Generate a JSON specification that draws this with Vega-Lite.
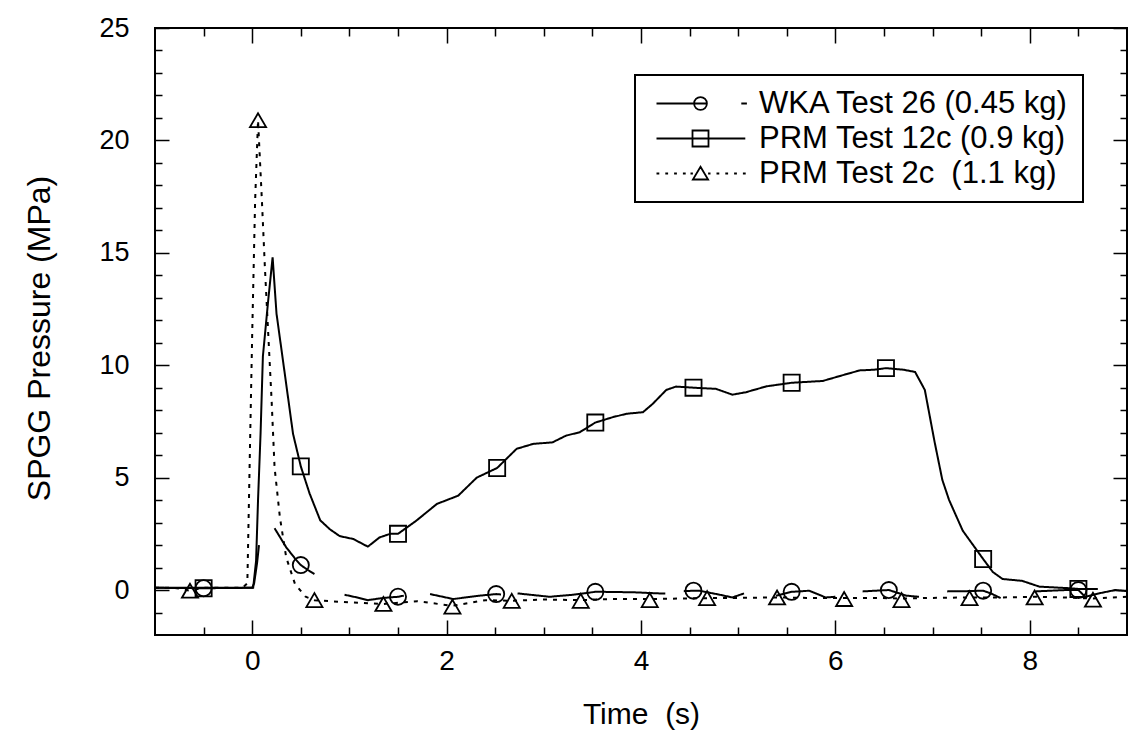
{
  "$schema": "https://vega.github.io/schema/vega-lite/v6.json",
  "width": 972,
  "height": 607,
  "autosize": {"type": "none"},
  "padding": {"left": 155, "top": 28, "right": 3, "bottom": 110},
  "background": "white",
  "config": {
    "view": {"stroke": "black", "strokeWidth": 2},
    "font": "Liberation Sans",
    "axis": {"domain": false, "grid": false, "tickColor": "black", "tickWidth": 1.5, "labelColor": "black", "titleColor": "black", "labelFont": "Liberation Sans", "titleFont": "Liberation Sans", "titleFontWeight": "normal"},
    "legend": {"labelFont": "Liberation Sans", "labelFontSize": 31, "labelColor": "black", "labelLimit": 1000, "strokeWidth": 2}
  },
  "datasets": {
    "lines": [
      {"series": "PRM12c", "seg": "b", "t": -1.0, "p": 0.1},
      {"series": "PRM12c", "seg": "b", "t": -0.5, "p": 0.1},
      {"series": "PRM12c", "seg": "b", "t": 0.01, "p": 0.1},
      {"series": "PRM12c", "seg": "b", "t": 0.04, "p": 1.3},
      {"series": "PRM12c", "seg": "b", "t": 0.06, "p": 4.0},
      {"series": "PRM12c", "seg": "b", "t": 0.086, "p": 6.95},
      {"series": "PRM12c", "seg": "b", "t": 0.11, "p": 10.4},
      {"series": "PRM12c", "seg": "b", "t": 0.165, "p": 12.9},
      {"series": "PRM12c", "seg": "b", "t": 0.21, "p": 14.8},
      {"series": "PRM12c", "seg": "b", "t": 0.25, "p": 12.3},
      {"series": "PRM12c", "seg": "b", "t": 0.32, "p": 10.1},
      {"series": "PRM12c", "seg": "b", "t": 0.42, "p": 6.95},
      {"series": "PRM12c", "seg": "b", "t": 0.5, "p": 5.5},
      {"series": "PRM12c", "seg": "b", "t": 0.59, "p": 4.3},
      {"series": "PRM12c", "seg": "b", "t": 0.7, "p": 3.1},
      {"series": "PRM12c", "seg": "b", "t": 0.8, "p": 2.7},
      {"series": "PRM12c", "seg": "b", "t": 0.9, "p": 2.4},
      {"series": "PRM12c", "seg": "b", "t": 1.04, "p": 2.27},
      {"series": "PRM12c", "seg": "b", "t": 1.19, "p": 1.93},
      {"series": "PRM12c", "seg": "b", "t": 1.31, "p": 2.34},
      {"series": "PRM12c", "seg": "b", "t": 1.42, "p": 2.5},
      {"series": "PRM12c", "seg": "b", "t": 1.5, "p": 2.5},
      {"series": "PRM12c", "seg": "b", "t": 1.69, "p": 3.09},
      {"series": "PRM12c", "seg": "b", "t": 1.9, "p": 3.83},
      {"series": "PRM12c", "seg": "b", "t": 2.12, "p": 4.2},
      {"series": "PRM12c", "seg": "b", "t": 2.31, "p": 5.0},
      {"series": "PRM12c", "seg": "b", "t": 2.52, "p": 5.43},
      {"series": "PRM12c", "seg": "b", "t": 2.72, "p": 6.28},
      {"series": "PRM12c", "seg": "b", "t": 2.89, "p": 6.5},
      {"series": "PRM12c", "seg": "b", "t": 3.09, "p": 6.57},
      {"series": "PRM12c", "seg": "b", "t": 3.23, "p": 6.87},
      {"series": "PRM12c", "seg": "b", "t": 3.37, "p": 7.02},
      {"series": "PRM12c", "seg": "b", "t": 3.53, "p": 7.45},
      {"series": "PRM12c", "seg": "b", "t": 3.71, "p": 7.69},
      {"series": "PRM12c", "seg": "b", "t": 3.85, "p": 7.84},
      {"series": "PRM12c", "seg": "b", "t": 4.02, "p": 7.91},
      {"series": "PRM12c", "seg": "b", "t": 4.12, "p": 8.28},
      {"series": "PRM12c", "seg": "b", "t": 4.26, "p": 8.9},
      {"series": "PRM12c", "seg": "b", "t": 4.36, "p": 9.05},
      {"series": "PRM12c", "seg": "b", "t": 4.54, "p": 9.0},
      {"series": "PRM12c", "seg": "b", "t": 4.77, "p": 8.95},
      {"series": "PRM12c", "seg": "b", "t": 4.94, "p": 8.69},
      {"series": "PRM12c", "seg": "b", "t": 5.08, "p": 8.8},
      {"series": "PRM12c", "seg": "b", "t": 5.29, "p": 9.06},
      {"series": "PRM12c", "seg": "b", "t": 5.55, "p": 9.22},
      {"series": "PRM12c", "seg": "b", "t": 5.87, "p": 9.3},
      {"series": "PRM12c", "seg": "b", "t": 6.07, "p": 9.55},
      {"series": "PRM12c", "seg": "b", "t": 6.25, "p": 9.77},
      {"series": "PRM12c", "seg": "b", "t": 6.4, "p": 9.8},
      {"series": "PRM12c", "seg": "b", "t": 6.52, "p": 9.87},
      {"series": "PRM12c", "seg": "b", "t": 6.7, "p": 9.8},
      {"series": "PRM12c", "seg": "b", "t": 6.82, "p": 9.7},
      {"series": "PRM12c", "seg": "b", "t": 6.92, "p": 8.9},
      {"series": "PRM12c", "seg": "b", "t": 7.02, "p": 6.6},
      {"series": "PRM12c", "seg": "b", "t": 7.1, "p": 4.9},
      {"series": "PRM12c", "seg": "b", "t": 7.17, "p": 4.0},
      {"series": "PRM12c", "seg": "b", "t": 7.31, "p": 2.64},
      {"series": "PRM12c", "seg": "b", "t": 7.52, "p": 1.38},
      {"series": "PRM12c", "seg": "b", "t": 7.62, "p": 0.8},
      {"series": "PRM12c", "seg": "b", "t": 7.72, "p": 0.49},
      {"series": "PRM12c", "seg": "b", "t": 7.92, "p": 0.41},
      {"series": "PRM12c", "seg": "b", "t": 8.1, "p": 0.15},
      {"series": "PRM12c", "seg": "b", "t": 8.37, "p": 0.09},
      {"series": "PRM12c", "seg": "b", "t": 8.5, "p": 0.05},
      {"series": "PRM12c", "seg": "b", "t": 8.7, "p": 0.05},
      {"series": "PRM2c", "seg": "c", "t": -1.0, "p": 0.1},
      {"series": "PRM2c", "seg": "c", "t": -0.8, "p": 0.1},
      {"series": "PRM2c", "seg": "c", "t": -0.64, "p": -0.03},
      {"series": "PRM2c", "seg": "c", "t": -0.5, "p": 0.1},
      {"series": "PRM2c", "seg": "c", "t": -0.1, "p": 0.1},
      {"series": "PRM2c", "seg": "c", "t": -0.05, "p": 0.3},
      {"series": "PRM2c", "seg": "c", "t": -0.04, "p": 2.5},
      {"series": "PRM2c", "seg": "c", "t": -0.02, "p": 7.0},
      {"series": "PRM2c", "seg": "c", "t": 0.0, "p": 11.4},
      {"series": "PRM2c", "seg": "c", "t": 0.03, "p": 17.3},
      {"series": "PRM2c", "seg": "c", "t": 0.06, "p": 20.9},
      {"series": "PRM2c", "seg": "c", "t": 0.1, "p": 17.3},
      {"series": "PRM2c", "seg": "c", "t": 0.13, "p": 14.4},
      {"series": "PRM2c", "seg": "c", "t": 0.165, "p": 11.4},
      {"series": "PRM2c", "seg": "c", "t": 0.2, "p": 8.4},
      {"series": "PRM2c", "seg": "c", "t": 0.23, "p": 5.46},
      {"series": "PRM2c", "seg": "c", "t": 0.285, "p": 3.23},
      {"series": "PRM2c", "seg": "c", "t": 0.35, "p": 1.45},
      {"series": "PRM2c", "seg": "c", "t": 0.44, "p": 0.27},
      {"series": "PRM2c", "seg": "c", "t": 0.55, "p": -0.3},
      {"series": "PRM2c", "seg": "c", "t": 0.64, "p": -0.45},
      {"series": "PRM2c", "seg": "c", "t": 1.0, "p": -0.55},
      {"series": "PRM2c", "seg": "c", "t": 1.35, "p": -0.62},
      {"series": "PRM2c", "seg": "c", "t": 1.7, "p": -0.5},
      {"series": "PRM2c", "seg": "c", "t": 2.06, "p": -0.7},
      {"series": "PRM2c", "seg": "c", "t": 2.4, "p": -0.45},
      {"series": "PRM2c", "seg": "c", "t": 2.67, "p": -0.48},
      {"series": "PRM2c", "seg": "c", "t": 3.0, "p": -0.42},
      {"series": "PRM2c", "seg": "c", "t": 3.38, "p": -0.45},
      {"series": "PRM2c", "seg": "c", "t": 3.7, "p": -0.4},
      {"series": "PRM2c", "seg": "c", "t": 4.09, "p": -0.4},
      {"series": "PRM2c", "seg": "c", "t": 4.4, "p": -0.38},
      {"series": "PRM2c", "seg": "c", "t": 4.68, "p": -0.36},
      {"series": "PRM2c", "seg": "c", "t": 5.0, "p": -0.35},
      {"series": "PRM2c", "seg": "c", "t": 5.4, "p": -0.33},
      {"series": "PRM2c", "seg": "c", "t": 5.7, "p": -0.35},
      {"series": "PRM2c", "seg": "c", "t": 6.09, "p": -0.35},
      {"series": "PRM2c", "seg": "c", "t": 6.4, "p": -0.35},
      {"series": "PRM2c", "seg": "c", "t": 6.68, "p": -0.38},
      {"series": "PRM2c", "seg": "c", "t": 7.0, "p": -0.35},
      {"series": "PRM2c", "seg": "c", "t": 7.38, "p": -0.33},
      {"series": "PRM2c", "seg": "c", "t": 7.7, "p": -0.33},
      {"series": "PRM2c", "seg": "c", "t": 8.05, "p": -0.3},
      {"series": "PRM2c", "seg": "c", "t": 8.35, "p": -0.33},
      {"series": "PRM2c", "seg": "c", "t": 8.65, "p": -0.38},
      {"series": "PRM2c", "seg": "c", "t": 9.0, "p": -0.3},
      {"series": "WKA", "seg": "w0", "t": -1.0, "p": 0.1},
      {"series": "WKA", "seg": "w0", "t": -0.5, "p": 0.08},
      {"series": "WKA", "seg": "w0", "t": 0.0, "p": 0.1},
      {"series": "WKA", "seg": "w0", "t": 0.02, "p": 0.3},
      {"series": "WKA", "seg": "w0", "t": 0.05, "p": 1.2},
      {"series": "WKA", "seg": "w0", "t": 0.07, "p": 2.0},
      {"series": "WKA", "seg": "w1", "t": 0.23, "p": 2.75},
      {"series": "WKA", "seg": "w1", "t": 0.35, "p": 1.9},
      {"series": "WKA", "seg": "w1", "t": 0.45, "p": 1.35},
      {"series": "WKA", "seg": "w1", "t": 0.5, "p": 1.11},
      {"series": "WKA", "seg": "w1", "t": 0.57, "p": 0.9},
      {"series": "WKA", "seg": "w1", "t": 0.64, "p": 0.71},
      {"series": "WKA", "seg": "w2", "t": 0.95, "p": -0.21},
      {"series": "WKA", "seg": "w2", "t": 1.1, "p": -0.35},
      {"series": "WKA", "seg": "w2", "t": 1.19, "p": -0.45},
      {"series": "WKA", "seg": "w2", "t": 1.35, "p": -0.35},
      {"series": "WKA", "seg": "w2", "t": 1.5, "p": -0.3},
      {"series": "WKA", "seg": "w2", "t": 1.56, "p": -0.25},
      {"series": "WKA", "seg": "w3", "t": 1.83, "p": -0.18},
      {"series": "WKA", "seg": "w3", "t": 2.07, "p": -0.4},
      {"series": "WKA", "seg": "w3", "t": 2.34, "p": -0.25},
      {"series": "WKA", "seg": "w3", "t": 2.51, "p": -0.18},
      {"series": "WKA", "seg": "w3", "t": 2.56, "p": -0.2},
      {"series": "WKA", "seg": "w4", "t": 2.73, "p": -0.15},
      {"series": "WKA", "seg": "w4", "t": 3.06, "p": -0.3},
      {"series": "WKA", "seg": "w4", "t": 3.3, "p": -0.21},
      {"series": "WKA", "seg": "w4", "t": 3.53, "p": -0.08},
      {"series": "WKA", "seg": "w4", "t": 3.61, "p": -0.08},
      {"series": "WKA", "seg": "w4", "t": 3.92, "p": -0.1},
      {"series": "WKA", "seg": "w4", "t": 4.19, "p": -0.15},
      {"series": "WKA", "seg": "w4", "t": 4.25, "p": -0.15},
      {"series": "WKA", "seg": "w5", "t": 4.44, "p": -0.05},
      {"series": "WKA", "seg": "w5", "t": 4.54, "p": -0.03},
      {"series": "WKA", "seg": "w5", "t": 4.6, "p": -0.03},
      {"series": "WKA", "seg": "w5", "t": 4.8, "p": -0.2},
      {"series": "WKA", "seg": "w5", "t": 4.94, "p": -0.33},
      {"series": "WKA", "seg": "w5", "t": 5.06, "p": -0.15},
      {"series": "WKA", "seg": "w6", "t": 5.39, "p": -0.25},
      {"series": "WKA", "seg": "w6", "t": 5.55, "p": -0.08},
      {"series": "WKA", "seg": "w6", "t": 5.73, "p": -0.03},
      {"series": "WKA", "seg": "w6", "t": 5.9, "p": -0.33},
      {"series": "WKA", "seg": "w6", "t": 6.0, "p": -0.3},
      {"series": "WKA", "seg": "w7", "t": 6.28, "p": -0.06},
      {"series": "WKA", "seg": "w7", "t": 6.55, "p": 0.0},
      {"series": "WKA", "seg": "w7", "t": 6.73, "p": -0.25},
      {"series": "WKA", "seg": "w7", "t": 6.86, "p": -0.3},
      {"series": "WKA", "seg": "w8", "t": 7.15, "p": -0.06},
      {"series": "WKA", "seg": "w8", "t": 7.35, "p": -0.05},
      {"series": "WKA", "seg": "w8", "t": 7.52, "p": -0.03},
      {"series": "WKA", "seg": "w8", "t": 7.6, "p": -0.15},
      {"series": "WKA", "seg": "w8", "t": 7.7, "p": -0.36},
      {"series": "WKA", "seg": "w9", "t": 8.06, "p": -0.06},
      {"series": "WKA", "seg": "w9", "t": 8.37, "p": 0.0},
      {"series": "WKA", "seg": "w9", "t": 8.5, "p": 0.0},
      {"series": "WKA", "seg": "w9", "t": 8.57, "p": -0.3},
      {"series": "WKA", "seg": "w9", "t": 8.71, "p": -0.15},
      {"series": "WKA", "seg": "w9", "t": 8.88, "p": 0.0},
      {"series": "WKA", "seg": "w9", "t": 9.0, "p": -0.05}
    ],
    "markers": [
      {"series": "PRM12c", "t": -0.5, "p": 0.08},
      {"series": "PRM12c", "t": 0.5, "p": 5.5},
      {"series": "PRM12c", "t": 1.5, "p": 2.5},
      {"series": "PRM12c", "t": 2.52, "p": 5.43},
      {"series": "PRM12c", "t": 3.53, "p": 7.45},
      {"series": "PRM12c", "t": 4.54, "p": 9.0},
      {"series": "PRM12c", "t": 5.55, "p": 9.22},
      {"series": "PRM12c", "t": 6.52, "p": 9.87},
      {"series": "PRM12c", "t": 7.52, "p": 1.38},
      {"series": "PRM12c", "t": 8.5, "p": 0.05},
      {"series": "WKA", "t": -0.5, "p": 0.08},
      {"series": "WKA", "t": 0.5, "p": 1.11},
      {"series": "WKA", "t": 1.5, "p": -0.3},
      {"series": "WKA", "t": 2.51, "p": -0.18},
      {"series": "WKA", "t": 3.53, "p": -0.08},
      {"series": "WKA", "t": 4.54, "p": -0.03},
      {"series": "WKA", "t": 5.55, "p": -0.08},
      {"series": "WKA", "t": 6.55, "p": 0.0},
      {"series": "WKA", "t": 7.52, "p": -0.03},
      {"series": "WKA", "t": 8.5, "p": 0.0},
      {"series": "PRM2c", "t": -0.64, "p": -0.03},
      {"series": "PRM2c", "t": 0.06, "p": 20.9},
      {"series": "PRM2c", "t": 0.64, "p": -0.45},
      {"series": "PRM2c", "t": 1.35, "p": -0.62},
      {"series": "PRM2c", "t": 2.06, "p": -0.74},
      {"series": "PRM2c", "t": 2.67, "p": -0.48},
      {"series": "PRM2c", "t": 3.38, "p": -0.48},
      {"series": "PRM2c", "t": 4.09, "p": -0.45},
      {"series": "PRM2c", "t": 4.68, "p": -0.36},
      {"series": "PRM2c", "t": 5.4, "p": -0.33},
      {"series": "PRM2c", "t": 6.09, "p": -0.4},
      {"series": "PRM2c", "t": 6.68, "p": -0.45},
      {"series": "PRM2c", "t": 7.38, "p": -0.36},
      {"series": "PRM2c", "t": 8.05, "p": -0.33},
      {"series": "PRM2c", "t": 8.65, "p": -0.43}
    ]
  },
  "layer": [
    {
      "data": {"name": "lines"},
      "mark": {"type": "line", "color": "black", "strokeWidth": 2, "clip": true},
      "encoding": {
        "x": {
          "field": "t", "type": "quantitative",
          "scale": {"domain": [-1, 9], "nice": false, "zero": false},
          "axis": {
            "orient": "bottom",
            "values": [-0.5, 0, 0.5, 1, 1.5, 2, 2.5, 3, 3.5, 4, 4.5, 5, 5.5, 6, 6.5, 7, 7.5, 8, 8.5],
            "labelExpr": "abs(datum.value % 2) < 0.001 ? '' + round(datum.value) : ''",
            "labelOverlap": false,
            "labelFontSize": 28,
            "labelPadding": 27,
            "tickSize": {"condition": {"test": "abs(datum.value % 2) < 0.001", "value": -15}, "value": -8},
            "title": "Time\u00a0 (s)",
            "titleFontSize": 30,
            "titleX": 486,
            "titleY": 79,
            "titleAlign": "center",
            "titleBaseline": "middle"
          }
        },
        "y": {
          "field": "p", "type": "quantitative",
          "scale": {"domain": [-2, 25], "nice": false, "zero": false},
          "axis": {
            "orient": "left",
            "values": [-1, 0, 1, 2, 3, 4, 5, 6, 7, 8, 9, 10, 11, 12, 13, 14, 15, 16, 17, 18, 19, 20, 21, 22, 23, 24, 25],
            "labelExpr": "abs(datum.value % 5) < 0.001 ? datum.label : ''",
            "labelOverlap": false,
            "labelFontSize": 27,
            "labelPadding": 40,
            "tickSize": {"condition": {"test": "abs(datum.value % 5) < 0.001", "value": -14}, "value": -7},
            "title": "SPGG Pressure (MPa)",
            "titleFontSize": 32,
            "titleX": -116,
            "titleY": 310,
            "titleAngle": -90,
            "titleAlign": "center",
            "titleBaseline": "middle"
          }
        },
        "detail": {"field": "seg", "type": "nominal"},
        "strokeDash": {
          "field": "series", "type": "nominal",
          "scale": {"range": [[1, 0], [4, 6], [1, 0]]},
          "legend": null
        }
      }
    },
    {
      "data": {"name": "markers"},
      "mark": {"type": "point", "filled": false, "color": "black", "opacity": 1, "strokeWidth": 1.8, "size": 260, "clip": true},
      "encoding": {
        "x": {
          "field": "t", "type": "quantitative",
          "axis": {
            "orient": "top",
            "values": [-0.5, 0, 0.5, 1, 1.5, 2, 2.5, 3, 3.5, 4, 4.5, 5, 5.5, 6, 6.5, 7, 7.5, 8, 8.5],
            "labels": false,
            "title": null,
            "tickSize": {"condition": {"test": "abs(datum.value % 2) < 0.001", "value": -15}, "value": -8}
          }
        },
        "y": {
          "field": "p", "type": "quantitative",
          "axis": {
            "orient": "right",
            "values": [-1, 0, 1, 2, 3, 4, 5, 6, 7, 8, 9, 10, 11, 12, 13, 14, 15, 16, 17, 18, 19, 20, 21, 22, 23, 24, 25],
            "labels": false,
            "title": null,
            "tickSize": {"condition": {"test": "abs(datum.value % 5) < 0.001", "value": -14}, "value": -7}
          }
        },
        "shape": {
          "field": "series", "type": "nominal",
          "scale": {"range": ["square", "triangle-up", "circle"]},
          "legend": null
        }
      }
    },
    {
      "data": {"name": "markers"},
      "mark": {"type": "point", "filled": false, "color": "black", "opacity": 0, "strokeWidth": 1.8, "size": 256, "clip": true},
      "encoding": {
        "x": {"field": "t", "type": "quantitative", "axis": null},
        "y": {"field": "p", "type": "quantitative", "axis": null},
        "shape": {
          "field": "series", "type": "nominal",
          "scale": {
            "domain": ["WKA", "PRM12c", "PRM2c"],
            "range": [
              "M-5.5,0H0.8M0.8,0A0.8,0.8,0,1,1,-0.8,0A0.8,0.8,0,1,1,0.8,0M5.1,0H5.8",
              "M-5.5,0H5.6M-1,-1H1V1H-1Z",
              "M-5.5,0h0.35M-4.4,0h0.35M-3.3,0h0.35M-2.2,0h0.35M-1.25,0h0.3M0.95,0h0.3M2.0,0h0.35M3.1,0h0.35M4.2,0h0.35M5.3,0h0.35M0,-0.85L0.95,0.75L-0.95,0.75Z"
            ]
          },
          "legend": {
            "orient": "none",
            "legendX": 480,
            "legendY": 47,
            "title": null,
            "direction": "vertical",
            "padding": 13,
            "strokeColor": "black",
            "fillColor": "white",
            "symbolSize": 256,
            "symbolStrokeWidth": 1.8,
            "symbolStrokeColor": "black",
            "symbolFillColor": "transparent",
            "symbolOpacity": 1,
            "symbolOffset": 37,
            "labelOffset": 43,
            "rowPadding": 3,
            "labelExpr": "datum.value === 'WKA' ? 'WKA Test 26 (0.45 kg)' : datum.value === 'PRM12c' ? 'PRM Test 12c (0.9 kg)' : 'PRM Test 2c\u00a0 (1.1 kg)'"
          }
        }
      }
    }
  ],
  "resolve": {"scale": {"shape": "independent"}, "axis": {"x": "independent", "y": "independent"}}
}
